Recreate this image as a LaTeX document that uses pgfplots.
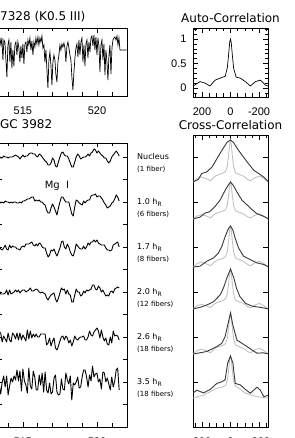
\documentclass[border=0pt]{standalone}
\usepackage{pgfplots}
\pgfplotsset{compat=1.18}
\usepackage{pgfplotstable}
\usepackage{fontspec}
\setmainfont{DejaVu Sans}
\newfontfamily\lib{Liberation Sans}
\definecolor{ccdark}{HTML}{383838}
\definecolor{cclight}{HTML}{C2C2C2}

\pgfplotstableread{
x s1 s2 s3 s4 s5 s6
513.3 269 226 182 134 89 41
513.4 271 226 181 137 95 42
513.5 269 224 178 133 94 33
513.6 269 225 177 133 85 45
513.7 271 224 179 133 91 51
513.8 270 226 182 134 88 40
513.9 270 225 178 137 85 51
514.0 269 225 177 132 94 32
514.1 270 224 182 137 87 41
514.2 270 225 179 133 85 49
514.3 270 224 181 134 94 45
514.4 271 225 180 135 92 51
514.5 272 225 180 137 88 47
514.6 271 224 178 135 94 57
514.7 270 224 178 137 87 46
514.8 268 225 177 134 94 56
514.9 270 224 180 136 87 36
515.0 272 226 181 137 92 58
515.1 270 226 180 137 89 46
515.2 271 227 183 135 86 42
515.3 271 228 183 136 97 34
515.4 273 228 183 137 88 59
515.5 274 229 184 139 96 41
515.6 274 230 185 136 89 38
515.7 273 230 182 136 93 56
515.8 273 226 181 137 90 50
515.9 271 227 183 138 93 37
516.0 270 226 181 137 90 37
516.1 273 227 184 135 90 52
516.2 272 225 183 134 93 42
516.3 270 225 180 135 93 54
516.4 268 223 179 134 93 35
516.5 266 222 179 133 93 55
516.6 265 217 174 129 82 37
516.7 262 214 170 127 84 34
516.8 262 214 172 130 89 44
516.9 264 219 177 132 81 33
517.0 269 223 176 133 86 35
517.1 267 220 178 134 89 49
517.2 261 216 174 128 79 52
517.3 260 212 171 125 77 35
517.4 265 219 175 129 81 32
517.5 270 225 179 134 86 33
517.6 274 230 185 139 90 48
517.7 275 230 186 137 91 38
517.8 272 227 180 138 87 37
517.9 271 225 178 133 91 54
518.0 271 225 183 137 89 47
518.1 268 225 180 133 84 43
518.2 264 219 175 132 87 51
518.3 260 213 172 125 81 27
518.4 260 211 171 125 85 44
518.5 265 220 176 132 91 42
518.6 270 227 183 138 88 45
518.7 273 226 181 135 87 50
518.8 271 224 179 135 89 39
518.9 268 223 178 131 90 40
519.0 269 222 178 132 90 50
519.1 270 226 181 136 91 57
519.2 270 224 178 134 87 57
519.3 271 226 180 137 87 50
519.4 273 227 184 136 90 40
519.5 271 227 182 137 96 52
519.6 274 231 185 138 92 46
519.7 275 232 185 142 91 61
519.8 278 232 187 142 95 50
519.9 277 233 185 138 97 53
520.0 274 230 187 137 99 54
520.1 276 231 184 141 96 45
520.2 274 231 183 139 89 48
520.3 272 229 182 135 97 38
520.4 271 227 182 137 90 55
520.5 269 224 182 134 86 54
520.6 269 222 179 131 89 45
520.7 266 219 177 132 83 49
520.8 264 220 177 131 82 43
520.9 266 221 176 135 90 37
521.0 270 224 177 136 84 50
521.1 272 225 182 134 96 40
521.2 274 228 183 138 91 46
521.3 276 232 184 139 92 57
521.4 274 230 185 140 91 59
521.5 271 226 180 139 87 37
}\spec

\pgfplotstableread{
x y
513.243 56
513.446 58
513.514 51
513.581 58
513.649 36
513.716 56
513.784 54
513.919 19
513.987 51
514.054 56
514.122 34
514.189 54
514.257 28
514.324 46
514.392 30
514.459 51
514.527 54
514.595 41
514.662 54
514.730 48
514.797 34
514.865 50
514.932 38
515.000 52
515.068 32
515.135 52
515.203 54
515.270 44
515.338 56
515.405 51
515.473 58
515.541 46
515.608 55
515.676 41
515.743 54
515.811 49
515.878 58
515.946 52
516.014 59
516.081 51
516.149 58
516.216 54
516.284 60
516.351 48
516.419 51
516.486 34
516.554 46
516.622 26
516.689 8
516.757 36
516.824 44
516.892 31
516.959 11
517.027 34
517.095 41
517.162 36
517.230 21
517.297 14
517.365 34
517.432 41
517.500 51
517.568 46
517.635 52
517.703 49
517.770 53
517.838 48
517.905 34
517.973 50
518.041 54
518.108 48
518.176 41
518.243 36
518.311 18
518.378 6
518.446 24
518.514 38
518.581 48
518.649 52
518.716 39
518.784 56
518.851 41
518.919 54
518.986 58
519.054 34
519.122 51
519.189 30
519.257 52
519.324 56
519.392 38
519.459 54
519.527 44
519.595 58
519.662 60
519.730 50
519.797 61
519.865 46
519.932 59
520.000 41
520.068 58
520.135 50
520.203 24
520.270 51
520.338 56
520.405 36
520.473 52
520.541 21
520.608 46
520.676 34
520.743 16
520.811 41
520.878 51
520.946 22
521.014 48
521.081 56
521.149 58
521.216 59
521.284 56
521.351 60
521.419 51
521.486 58
521.554 46
522.000 46
}\starspec

\pgfplotsset{
  base/.style={scale only axis, anchor=south west,
    axis line style={line width=0.6pt},
    every tick/.style={black, line width=0.5pt},
    major tick length=5pt, minor tick length=3.5pt, tick align=inside,
    xticklabel style={font=\lib\fontsize{11}{11}\selectfont, yshift=-7pt},
    yticklabel style={font=\lib\fontsize{11}{11}\selectfont, xshift=-3pt}},
  spec/.style={black, line width=0.9pt, mark=none, line join=round},
  dk/.style={ccdark, line width=0.9pt, mark=none},
  lt/.style={cclight, line width=0.9pt, mark=none},
}

\begin{document}
\begin{tikzpicture}
\useasboundingbox (0pt,0pt) rectangle (294pt,438pt);
\clip (0pt,0pt) rectangle (294pt,438pt);

% star spectrum
\begin{axis}[base, at={(-3pt,342pt)}, width=130pt, height=68pt,
  xmin=513.25, xmax=522.03, ymin=0, ymax=68,
  xtick={515,520}, xticklabels={515,520},
  minor xtick={514,516,517,518,519,521},
  ytick=\empty, minor ytick={10,22,34,46,58}]
\addplot[black, line width=0.7pt, mark=none] table[x=x, y=y] {\starspec};
\end{axis}

% galaxy spectra
\begin{axis}[base, at={(-3pt,11pt)}, width=130pt, height=284pt,
  xmin=513.25, xmax=522.03, ymin=0, ymax=284,
  xtick={515,520}, xticklabels={515,520},
  minor xtick={514,516,517,518,519,521},
  ytick={22.5,45,67.5,90,112.5,135,157.5,180,202.5,225,247.5,270}, yticklabels={},
  major tick length=4.5pt]
\addplot[spec] table[x=x, y=s1] {\spec};
\addplot[spec] table[x=x, y=s2] {\spec};
\addplot[spec] table[x=x, y=s3] {\spec};
\addplot[spec] table[x=x, y=s4] {\spec};
\addplot[spec] table[x=x, y=s5] {\spec};
\addplot[spec] table[x=x, y=s6] {\spec};
\end{axis}

% auto-correlation
\begin{axis}[base, at={(193pt,341pt)}, width=75pt, height=69pt,
  xmin=-263, xmax=263, x dir=reverse, ymin=-0.184, ymax=1.224,
  xtick={-200,0,200}, xticklabels={-200,0,200},
  minor xtick={-250,-150,-100,-50,50,100,150,250},
  ytick={0,0.5,1}, yticklabels={0,0.5,1},
  minor ytick={-0.1,0.1,0.2,0.3,0.4,0.6,0.7,0.8,0.9,1.1,1.2}]
\addplot[black, line width=0.7pt, mark=none] coordinates {
(262,0.04) (240,0.08) (214,0.13) (179,0.10) (144,0.04) (108,0.16) (73,0.20) (37,0.24) (22,0.42) (12,0.72) (5,0.95) (0,1.0) (-5,0.93) (-12,0.70) (-22,0.40) (-40,0.22) (-69,0.20) (-104,0.13) (-139,0.04) (-175,0.13) (-210,0.16) (-245,0.06) (-263,0.04)};
\end{axis}

% cross-correlation
\begin{axis}[base, at={(193pt,11pt)}, width=75pt, height=292pt,
  xmin=-263, xmax=263, x dir=reverse, ymin=0, ymax=292,
  xtick={-200,0,200}, xticklabels={-200,0,200},
  minor xtick={-250,-150,-100,-50,50,100,150,250},
  ytick={45,90,135,180,225,270}, yticklabels={}]
% row 1
\addplot[lt] coordinates {(263,245) (235,248.4) (205,250) (170,248.4) (140,246.3) (115,250) (90,252.1) (60,253.4) (35,255.5) (22,261) (12,273.6) (5,283.6) (0,287) (-5,283.6) (-12,272.7) (-22,260.1) (-35,254.2) (-60,252.6) (-90,250.9) (-120,247.5) (-140,246.3) (-170,249.2) (-205,250.9) (-235,248.4) (-263,245)};
\addplot[dk] coordinates {(262,245) (226,247.5) (202,253.4) (167,255.1) (131,259.7) (96,268.1) (61,276.5) (25,284.5) (0,287) (-21,284.5) (-57,276.5) (-92,269.8) (-127,263.1) (-163,256.8) (-198,253.4) (-233,250) (-269,245)};
% row 2
\addplot[lt] coordinates {(263,208) (235,211) (205,212.4) (170,211) (140,209.1) (115,212.4) (90,214.3) (60,215.4) (35,217.3) (22,222.1) (12,233.2) (5,242) (0,245) (-5,242) (-12,232.4) (-22,221.3) (-35,216.1) (-60,214.7) (-90,213.2) (-120,210.2) (-140,209.1) (-170,211.7) (-205,213.2) (-235,211) (-263,208)};
\addplot[dk] coordinates {(262,208) (214,209.9) (179,213.9) (144,215.4) (108,220.6) (73,226.9) (37,236.9) (18,241.3) (0,245) (-21,241.3) (-45,235) (-80,226.9) (-116,222.1) (-151,217.3) (-186,213.2) (-233,210.6) (-269,208)};
% row 3
\addplot[lt] coordinates {(263,160) (235,163.3) (205,164.9) (170,163.3) (140,161.2) (115,164.9) (90,167) (60,168.2) (35,170.3) (22,175.6) (12,187.9) (5,197.7) (0,201) (-5,197.7) (-12,187.1) (-22,174.8) (-35,169) (-60,167.4) (-90,165.7) (-120,162.5) (-140,161.2) (-170,164.1) (-205,165.7) (-235,163.3) (-263,160)};
\addplot[dk] coordinates {(261,160) (214,160.8) (167,165.7) (120,169) (85,173.9) (61,180.5) (38,190.3) (14,198.5) (0,201) (-17,196.9) (-33,188.7) (-57,178.9) (-92,170.7) (-139,167.4) (-186,164.1) (-233,162.5) (-269,160)};
% row 4
\addplot[lt] coordinates {(263,118) (235,121.2) (205,122.8) (170,121.2) (140,119.2) (115,122.8) (90,124.8) (60,126) (35,128) (22,133.2) (12,145.2) (5,154.8) (0,158) (-5,154.8) (-12,144.4) (-22,132.4) (-35,126.8) (-60,125.2) (-90,123.6) (-120,120.4) (-140,119.2) (-170,122) (-205,123.6) (-235,121.2) (-263,118)};
\addplot[dk] coordinates {(264,118) (214,119.6) (167,122) (120,125.2) (73,132) (50,138.8) (26,148.8) (0,158) (-24,148.8) (-42,138.8) (-66,130.4) (-106,123.6) (-153,120.8) (-212,119.6) (-269,118)};
% row 5
\addplot[lt] coordinates {(263,73) (235,76.3) (205,77.9) (170,76.3) (140,74.2) (115,77.9) (90,80) (60,81.2) (35,83.3) (22,88.6) (12,100.9) (5,110.7) (0,114) (-5,110.7) (-12,100.1) (-22,87.8) (-35,82) (-60,80.4) (-90,78.7) (-120,75.5) (-140,74.2) (-170,77.1) (-205,78.7) (-235,76.3) (-263,73)};
\addplot[dk] coordinates {(261,73) (214,74.2) (167,75.5) (96,80.4) (61,83.7) (38,90.2) (20,101.7) (0,114) (-17,101.7) (-45,86.9) (-80,83.7) (-116,80.4) (-150,77.1) (-186,73.8) (-230,74.2) (-269,73)};
% row 6
\addplot[lt] coordinates {(264,28.8) (189,31.9) (96,38.7) (60,39.8) (35,41.4) (22,46.7) (12,58.1) (5,68) (0,71) (-5,68) (-12,57.3) (-22,45.9) (-35,40.6) (-60,38.7) (-104,33.8) (-186,30.3) (-269,28.8)};
\addplot[dk] coordinates {(264,33.8) (236,36.8) (189,34.1) (142,37.6) (96,43.6) (61,45.2) (38,47.1) (20,63.8) (0,71) (-17,63.8) (-33,43.6) (-69,42.1) (-104,37.6) (-139,33.8) (-186,39.8) (-210,36.8) (-233,30.3) (-269,31.9)};
\end{axis}

% titles
\node[anchor=base west, inner sep=0pt, font=\fontsize{12}{12}\selectfont] at (0pt,417.5pt) {7328 (K0.5 III)};
\node[anchor=base, inner sep=0pt, font=\fontsize{12}{12}\selectfont] at (230.5pt,415.5pt) {Auto-Correlation};
\node[anchor=base west, inner sep=0pt, font=\fontsize{12}{12}\selectfont] at (0pt,309.7pt) {GC 3982};
\node[anchor=base, inner sep=0pt, font=\fontsize{12}{12}\selectfont] at (230.5pt,308.7pt) {Cross-Correlation};
\node[anchor=base, inner sep=0pt, font=\fontsize{10}{10}\selectfont] at (57pt,249.5pt) {Mg\ \ I};

% row labels
\begin{scope}[every node/.style={anchor=base west, inner sep=0pt}]
\node[font=\fontsize{8}{8}\selectfont] at (137pt,278pt) {Nucleus};
\node[font=\fontsize{7}{7}\selectfont] at (137pt,266.5pt) {(1 fiber)};
\node[font=\fontsize{8}{8}\selectfont] at (137pt,233pt) {1.0 h\textsubscript{R}};
\node[font=\fontsize{7}{7}\selectfont] at (137pt,221.5pt) {(6 fibers)};
\node[font=\fontsize{8}{8}\selectfont] at (137pt,188pt) {1.7 h\textsubscript{R}};
\node[font=\fontsize{7}{7}\selectfont] at (137pt,176.5pt) {(8 fibers)};
\node[font=\fontsize{8}{8}\selectfont] at (137pt,143pt) {2.0 h\textsubscript{R}};
\node[font=\fontsize{7}{7}\selectfont] at (137pt,131.5pt) {(12 fibers)};
\node[font=\fontsize{8}{8}\selectfont] at (137pt,98pt) {2.6 h\textsubscript{R}};
\node[font=\fontsize{7}{7}\selectfont] at (137pt,86.5pt) {(18 fibers)};
\node[font=\fontsize{8}{8}\selectfont] at (137pt,53pt) {3.5 h\textsubscript{R}};
\node[font=\fontsize{7}{7}\selectfont] at (137pt,41.5pt) {(18 fibers)};
\end{scope}
\end{tikzpicture}
\end{document}
